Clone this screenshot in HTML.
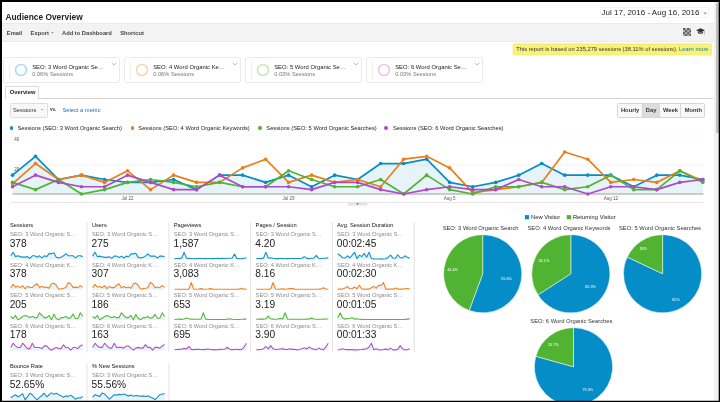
<!DOCTYPE html>
<html lang="en"><head><meta charset="utf-8"><title>Audience Overview</title>
<style>
html,body{margin:0;padding:0;}
body{width:720px;height:402px;overflow:hidden;background:#000;font-family:"Liberation Sans",sans-serif;position:relative;color:#222;}
.abs,.page div,.page i,.page span,.page svg{position:absolute;}
.page{position:absolute;left:2px;top:2px;width:717px;height:398.8px;background:#fff;overflow:hidden;}
.wrap{position:absolute;left:-2px;top:-2px;width:720px;height:402px;will-change:transform;filter:blur(0.35px);}
.title{left:5.4px;top:12.4px;font-size:8.4px;font-weight:bold;color:#222;line-height:10px;white-space:nowrap;}
.date{left:600.3px;top:7px;width:109px;height:11px;border:1px solid #f2f2f2;border-radius:1.5px;box-sizing:border-box;}
.date span{left:0.3px;top:0.3px;font-size:8px;line-height:10px;color:#222;white-space:nowrap;}
.bar{left:0;top:23px;width:714.2px;height:19px;background:#f3f3f3;border-top:1px solid #ebebeb;border-bottom:1px solid #ebebeb;box-sizing:border-box;}
.tb{top:29.8px;font-size:5.75px;font-weight:bold;color:#444;line-height:7px;white-space:nowrap;}
.note{left:512.8px;top:44.4px;width:199px;height:11.5px;font-size:5.75px;line-height:11.4px;color:#333;white-space:nowrap;}
.note span{left:3.4px;top:0;}
.note b{font-weight:normal;color:#15809c;}
.card{top:57.25px;width:116.4px;height:26.2px;border:1px solid #ebebeb;border-radius:2px;box-sizing:border-box;background:#fff;}
.grip{left:4.9px;top:4px;width:1px;height:18px;background:#f0f0f0;}
.ring{left:9.75px;top:4.85px;}
.cn{left:27.95px;top:5.75px;font-size:5.9px;line-height:7px;color:#222;white-space:nowrap;}
.cp{left:27.95px;top:12.35px;font-size:5.7px;line-height:7px;color:#777;white-space:nowrap;}
.chev{left:106.9px;top:3.5px;}
.tabline{left:5px;top:97.8px;width:708px;height:0.6px;background:#d4d4d4;}
.tab{left:4.9px;top:86px;width:34.6px;height:12.5px;border:0.7px solid #dadada;border-bottom:none;border-radius:1.5px 1.5px 0 0;background:#fff;box-sizing:border-box;}
.tab span{left:3.9px;top:2.4px;font-size:5.75px;font-weight:bold;line-height:7px;color:#222;}
.dd{left:9.5px;top:103px;width:38px;height:15px;border:1px solid #dedede;border-radius:1.5px;background:#f8f8f8;box-sizing:border-box;}
.dd span{left:2.5px;top:3.4px;font-size:5.75px;line-height:7px;color:#333;}
.dd i{left:30.5px;top:5.4px;width:0;height:0;border-left:1.1px solid transparent;border-right:1.1px solid transparent;border-top:1.3px solid #666;}
.vs{left:50px;top:107px;font-weight:bold;font-size:4.6px;line-height:6px;color:#333;}
.sel{left:62.4px;top:106.6px;font-size:5.78px;line-height:7px;color:#1a6fb5;white-space:nowrap;}
.btns{left:617.4px;top:103.2px;width:88px;height:14.4px;border:0.6px solid #d6d6d6;border-radius:1.5px;box-sizing:border-box;background:#f8f8f8;overflow:hidden;}
.btns span{top:0;height:13.2px;font-size:5.75px;font-weight:bold;line-height:13px;color:#333;text-align:center;border-right:0.6px solid #d6d6d6;box-sizing:border-box;}
.dot{top:126.3px;width:3.9px;height:3.9px;border-radius:50%;}
.lg{top:125.1px;font-size:5.78px;line-height:7px;color:#222;white-space:nowrap;}
.mt{font-size:5.7px;line-height:7px;color:#111;white-space:nowrap;}
.ms{font-size:5.7px;line-height:7px;color:#8a8a8a;white-space:nowrap;}
.mv{font-size:10.2px;line-height:12px;color:#222;white-space:nowrap;}
.sbt{left:713.5px;top:2px;width:5.4px;height:400px;background:#f1f1f1;}
.sb{left:716.2px;top:3px;width:2.7px;height:129.6px;background:#c0c0c0;}
.ic1{left:682.9px;top:28px;}
.ic2{left:695.8px;top:27.9px;}
</style></head><body>
<div class="page"><div class="wrap">
<div class="title">Audience Overview</div>
<div class="date"><span>Jul 17, 2016 - Aug 16, 2016</span><svg style="left:101.7px;top:3.6px" width="4.4" height="3" viewBox="0 0 4.4 3"><path d="M0.3 0.4h3.8L2.2 2.4z" fill="#999"/></svg></div>
<div class="bar"></div>
<div class="tb" style="left:6.8px">Email</div><div class="tb" style="left:30.6px">Export</div>
<svg class="abs" style="left:51.2px;top:32px" width="3" height="2" viewBox="0 0 3 2"><path d="M0.2 0.2h2.4L1.4 1.6z" fill="#666"/></svg>
<div class="tb" style="left:62px">Add to Dashboard</div><div class="tb" style="left:120.2px">Shortcut</div>
<svg class="ic1" width="8.4" height="8.4" viewBox="0 0 8 8"><rect width="8" height="8" fill="#b4b4b4"/><g fill="#5e5e5e"><rect x="0" y="0" width="2" height="2"/><rect x="4" y="0" width="2" height="2"/><rect x="2" y="2" width="2" height="2"/><rect x="6" y="2" width="2" height="2"/><rect x="0" y="4" width="2" height="2"/><rect x="4" y="4" width="2" height="2"/><rect x="2" y="6" width="2" height="2"/><rect x="6" y="6" width="2" height="2"/></g></svg>
<svg class="ic2" width="9.4" height="7" viewBox="0 0 9.4 7"><path d="M4.5 0.2L0 2.3L4.5 4.4L9 2.3z M1.9 3.6v1.5c0.8 0.9 4.4 0.9 5.2 0V3.6L4.5 4.9z M8.3 2.8v2.6l0.5 0.9l-1 0l0.3-0.9V3z" fill="#333"/></svg>
<svg class="abs" style="left:0;top:0" width="720" height="60" viewBox="0 0 720 60"><rect x="513" y="43.75" width="198.7" height="11.3" rx="1" fill="#f9f27a" stroke="#ebe25c" stroke-width="0.5"/></svg>
<div class="note"><span>This report is based on 235,279 sessions (38.11% of sessions). <b>Learn more</b></span></div>
<div class="card" style="left:3.25px"><i class="grip"></i><svg class="ring" width="14" height="14" viewBox="0 0 14 14"><circle cx="7" cy="7" r="5.45" fill="none" stroke="#b0dbef" stroke-width="1.6"/></svg><span class="cn">SEO: 3 Word Organic Se…</span><span class="cp">0.06% Sessions</span><svg class="chev" width="6" height="4" viewBox="0 0 6 4"><path d="M0.6 0.7L3 3.1L5.4 0.7" fill="none" stroke="#b4b4b4" stroke-width="0.9"/></svg></div>
<div class="card" style="left:124.25px"><i class="grip"></i><svg class="ring" width="14" height="14" viewBox="0 0 14 14"><circle cx="7" cy="7" r="5.45" fill="none" stroke="#f9d5b1" stroke-width="1.6"/></svg><span class="cn">SEO: 4 Word Organic Ke…</span><span class="cp">0.06% Sessions</span><svg class="chev" width="6" height="4" viewBox="0 0 6 4"><path d="M0.6 0.7L3 3.1L5.4 0.7" fill="none" stroke="#b4b4b4" stroke-width="0.9"/></svg></div>
<div class="card" style="left:245.25px"><i class="grip"></i><svg class="ring" width="14" height="14" viewBox="0 0 14 14"><circle cx="7" cy="7" r="5.45" fill="none" stroke="#c6e7bc" stroke-width="1.6"/></svg><span class="cn">SEO: 5 Word Organic Se…</span><span class="cp">0.03% Sessions</span><svg class="chev" width="6" height="4" viewBox="0 0 6 4"><path d="M0.6 0.7L3 3.1L5.4 0.7" fill="none" stroke="#b4b4b4" stroke-width="0.9"/></svg></div>
<div class="card" style="left:366.25px"><i class="grip"></i><svg class="ring" width="14" height="14" viewBox="0 0 14 14"><circle cx="7" cy="7" r="5.45" fill="none" stroke="#e7c9f0" stroke-width="1.6"/></svg><span class="cn">SEO: 6 Word Organic Se…</span><span class="cp">0.03% Sessions</span><svg class="chev" width="6" height="4" viewBox="0 0 6 4"><path d="M0.6 0.7L3 3.1L5.4 0.7" fill="none" stroke="#b4b4b4" stroke-width="0.9"/></svg></div>
<div class="tabline"></div><div class="tab"><span>Overview</span></div>
<div class="dd"><span>Sessions</span><i></i></div><div class="vs">vs.</div><div class="sel">Select a metric</div>
<div class="btns"><span style="left:0;width:24.4px">Hourly</span><span style="left:24.4px;width:17.6px;background:#dcdcdc">Day</span><span style="left:42px;width:21px">Week</span><span style="left:63px;width:24px;border-right:none">Month</span></div>
<i class="dot" style="left:9.5px;background:#058dc7"></i><div class="lg" style="left:17.5px">Sessions (SEO: 3 Word Organic Search)</div>
<i class="dot" style="left:130.6px;background:#ed7e17"></i><div class="lg" style="left:138.3px">Sessions (SEO: 4 Word Organic Keywords)</div>
<i class="dot" style="left:258.1px;background:#50b432"></i><div class="lg" style="left:266.3px">Sessions (SEO: 5 Word Organic Searches)</div>
<i class="dot" style="left:384.1px;background:#af49c5"></i><div class="lg" style="left:393px">Sessions (SEO: 6 Word Organic Searches)</div>
<svg class="abs" style="left:0;top:0" width="720" height="402" viewBox="0 0 720 402">
<line x1="12.5" x2="703.5" y1="165.00" y2="165.00" stroke="#ebebeb" stroke-width="0.6"/>
<line x1="12.5" x2="703.5" y1="136.00" y2="136.00" stroke="#f1f1f1" stroke-width="0.6"/>
<polygon points="12.5,194.0 12.50,175.15 35.51,156.30 58.52,179.50 81.53,175.15 104.54,179.50 127.55,182.40 150.56,182.40 173.57,179.50 196.58,189.65 219.59,175.15 242.60,175.15 265.61,182.40 288.62,175.15 311.63,186.75 334.64,175.15 357.65,179.50 380.66,163.55 403.67,163.55 426.68,159.20 449.69,182.40 472.70,186.75 495.71,182.40 518.72,175.15 541.73,163.55 564.74,175.15 587.75,175.15 610.76,175.15 633.77,186.75 656.78,175.15 679.79,175.15 702.80,179.50 702.8,194.0" fill="#058dc7" fill-opacity="0.1"/>
<line x1="12.5" x2="703.5" y1="194.0" y2="194.0" stroke="#bcbcbc" stroke-width="1.5"/>
<polyline points="12.50,175.15 35.51,156.30 58.52,179.50 81.53,175.15 104.54,179.50 127.55,182.40 150.56,182.40 173.57,179.50 196.58,189.65 219.59,175.15 242.60,175.15 265.61,182.40 288.62,175.15 311.63,186.75 334.64,175.15 357.65,179.50 380.66,163.55 403.67,163.55 426.68,159.20 449.69,182.40 472.70,186.75 495.71,182.40 518.72,175.15 541.73,163.55 564.74,175.15 587.75,175.15 610.76,175.15 633.77,186.75 656.78,175.15 679.79,175.15 702.80,179.50" fill="none" stroke="#058dc7" stroke-width="1.7" stroke-linejoin="round" stroke-linecap="round"/>
<circle cx="12.50" cy="175.15" r="1.8" fill="#058dc7"/>
<circle cx="35.51" cy="156.30" r="1.8" fill="#058dc7"/>
<circle cx="58.52" cy="179.50" r="1.8" fill="#058dc7"/>
<circle cx="81.53" cy="175.15" r="1.8" fill="#058dc7"/>
<circle cx="104.54" cy="179.50" r="1.8" fill="#058dc7"/>
<circle cx="127.55" cy="182.40" r="1.8" fill="#058dc7"/>
<circle cx="150.56" cy="182.40" r="1.8" fill="#058dc7"/>
<circle cx="173.57" cy="179.50" r="1.8" fill="#058dc7"/>
<circle cx="196.58" cy="189.65" r="1.8" fill="#058dc7"/>
<circle cx="219.59" cy="175.15" r="1.8" fill="#058dc7"/>
<circle cx="242.60" cy="175.15" r="1.8" fill="#058dc7"/>
<circle cx="265.61" cy="182.40" r="1.8" fill="#058dc7"/>
<circle cx="288.62" cy="175.15" r="1.8" fill="#058dc7"/>
<circle cx="311.63" cy="186.75" r="1.8" fill="#058dc7"/>
<circle cx="334.64" cy="175.15" r="1.8" fill="#058dc7"/>
<circle cx="357.65" cy="179.50" r="1.8" fill="#058dc7"/>
<circle cx="380.66" cy="163.55" r="1.8" fill="#058dc7"/>
<circle cx="403.67" cy="163.55" r="1.8" fill="#058dc7"/>
<circle cx="426.68" cy="159.20" r="1.8" fill="#058dc7"/>
<circle cx="449.69" cy="182.40" r="1.8" fill="#058dc7"/>
<circle cx="472.70" cy="186.75" r="1.8" fill="#058dc7"/>
<circle cx="495.71" cy="182.40" r="1.8" fill="#058dc7"/>
<circle cx="518.72" cy="175.15" r="1.8" fill="#058dc7"/>
<circle cx="541.73" cy="163.55" r="1.8" fill="#058dc7"/>
<circle cx="564.74" cy="175.15" r="1.8" fill="#058dc7"/>
<circle cx="587.75" cy="175.15" r="1.8" fill="#058dc7"/>
<circle cx="610.76" cy="175.15" r="1.8" fill="#058dc7"/>
<circle cx="633.77" cy="186.75" r="1.8" fill="#058dc7"/>
<circle cx="656.78" cy="175.15" r="1.8" fill="#058dc7"/>
<circle cx="679.79" cy="175.15" r="1.8" fill="#058dc7"/>
<circle cx="702.80" cy="179.50" r="1.8" fill="#058dc7"/>
<polyline points="12.50,183.85 35.51,163.55 58.52,179.50 81.53,175.15 104.54,182.40 127.55,170.80 150.56,189.65 173.57,175.15 196.58,182.40 219.59,182.40 242.60,167.90 265.61,159.20 288.62,182.40 311.63,175.15 334.64,182.40 357.65,179.50 380.66,186.75 403.67,159.20 426.68,156.30 449.69,167.90 472.70,192.55 495.71,189.65 518.72,186.75 541.73,182.40 564.74,151.95 587.75,159.20 610.76,182.40 633.77,179.50 656.78,182.40 679.79,170.80 702.80,180.95" fill="none" stroke="#ed7e17" stroke-width="1.7" stroke-linejoin="round" stroke-linecap="round"/>
<circle cx="12.50" cy="183.85" r="1.8" fill="#ed7e17"/>
<circle cx="35.51" cy="163.55" r="1.8" fill="#ed7e17"/>
<circle cx="58.52" cy="179.50" r="1.8" fill="#ed7e17"/>
<circle cx="81.53" cy="175.15" r="1.8" fill="#ed7e17"/>
<circle cx="104.54" cy="182.40" r="1.8" fill="#ed7e17"/>
<circle cx="127.55" cy="170.80" r="1.8" fill="#ed7e17"/>
<circle cx="150.56" cy="189.65" r="1.8" fill="#ed7e17"/>
<circle cx="173.57" cy="175.15" r="1.8" fill="#ed7e17"/>
<circle cx="196.58" cy="182.40" r="1.8" fill="#ed7e17"/>
<circle cx="219.59" cy="182.40" r="1.8" fill="#ed7e17"/>
<circle cx="242.60" cy="167.90" r="1.8" fill="#ed7e17"/>
<circle cx="265.61" cy="159.20" r="1.8" fill="#ed7e17"/>
<circle cx="288.62" cy="182.40" r="1.8" fill="#ed7e17"/>
<circle cx="311.63" cy="175.15" r="1.8" fill="#ed7e17"/>
<circle cx="334.64" cy="182.40" r="1.8" fill="#ed7e17"/>
<circle cx="357.65" cy="179.50" r="1.8" fill="#ed7e17"/>
<circle cx="380.66" cy="186.75" r="1.8" fill="#ed7e17"/>
<circle cx="403.67" cy="159.20" r="1.8" fill="#ed7e17"/>
<circle cx="426.68" cy="156.30" r="1.8" fill="#ed7e17"/>
<circle cx="449.69" cy="167.90" r="1.8" fill="#ed7e17"/>
<circle cx="472.70" cy="192.55" r="1.8" fill="#ed7e17"/>
<circle cx="495.71" cy="189.65" r="1.8" fill="#ed7e17"/>
<circle cx="518.72" cy="186.75" r="1.8" fill="#ed7e17"/>
<circle cx="541.73" cy="182.40" r="1.8" fill="#ed7e17"/>
<circle cx="564.74" cy="151.95" r="1.8" fill="#ed7e17"/>
<circle cx="587.75" cy="159.20" r="1.8" fill="#ed7e17"/>
<circle cx="610.76" cy="182.40" r="1.8" fill="#ed7e17"/>
<circle cx="633.77" cy="179.50" r="1.8" fill="#ed7e17"/>
<circle cx="656.78" cy="182.40" r="1.8" fill="#ed7e17"/>
<circle cx="679.79" cy="170.80" r="1.8" fill="#ed7e17"/>
<circle cx="702.80" cy="180.95" r="1.8" fill="#ed7e17"/>
<polyline points="12.50,182.40 35.51,189.65 58.52,179.50 81.53,194.00 104.54,189.65 127.55,182.40 150.56,179.50 173.57,182.40 196.58,186.75 219.59,182.40 242.60,186.75 265.61,186.75 288.62,170.80 311.63,179.50 334.64,186.75 357.65,186.75 380.66,179.50 403.67,194.00 426.68,175.15 449.69,189.65 472.70,194.00 495.71,186.75 518.72,186.75 541.73,182.40 564.74,189.65 587.75,186.75 610.76,175.15 633.77,189.65 656.78,189.65 679.79,170.80 702.80,182.40" fill="none" stroke="#50b432" stroke-width="1.7" stroke-linejoin="round" stroke-linecap="round"/>
<circle cx="12.50" cy="182.40" r="1.8" fill="#50b432"/>
<circle cx="35.51" cy="189.65" r="1.8" fill="#50b432"/>
<circle cx="58.52" cy="179.50" r="1.8" fill="#50b432"/>
<circle cx="81.53" cy="194.00" r="1.8" fill="#50b432"/>
<circle cx="104.54" cy="189.65" r="1.8" fill="#50b432"/>
<circle cx="127.55" cy="182.40" r="1.8" fill="#50b432"/>
<circle cx="150.56" cy="179.50" r="1.8" fill="#50b432"/>
<circle cx="173.57" cy="182.40" r="1.8" fill="#50b432"/>
<circle cx="196.58" cy="186.75" r="1.8" fill="#50b432"/>
<circle cx="219.59" cy="182.40" r="1.8" fill="#50b432"/>
<circle cx="242.60" cy="186.75" r="1.8" fill="#50b432"/>
<circle cx="265.61" cy="186.75" r="1.8" fill="#50b432"/>
<circle cx="288.62" cy="170.80" r="1.8" fill="#50b432"/>
<circle cx="311.63" cy="179.50" r="1.8" fill="#50b432"/>
<circle cx="334.64" cy="186.75" r="1.8" fill="#50b432"/>
<circle cx="357.65" cy="186.75" r="1.8" fill="#50b432"/>
<circle cx="380.66" cy="179.50" r="1.8" fill="#50b432"/>
<circle cx="403.67" cy="194.00" r="1.8" fill="#50b432"/>
<circle cx="426.68" cy="175.15" r="1.8" fill="#50b432"/>
<circle cx="449.69" cy="189.65" r="1.8" fill="#50b432"/>
<circle cx="472.70" cy="194.00" r="1.8" fill="#50b432"/>
<circle cx="495.71" cy="186.75" r="1.8" fill="#50b432"/>
<circle cx="518.72" cy="186.75" r="1.8" fill="#50b432"/>
<circle cx="541.73" cy="182.40" r="1.8" fill="#50b432"/>
<circle cx="564.74" cy="189.65" r="1.8" fill="#50b432"/>
<circle cx="587.75" cy="186.75" r="1.8" fill="#50b432"/>
<circle cx="610.76" cy="175.15" r="1.8" fill="#50b432"/>
<circle cx="633.77" cy="189.65" r="1.8" fill="#50b432"/>
<circle cx="656.78" cy="189.65" r="1.8" fill="#50b432"/>
<circle cx="679.79" cy="170.80" r="1.8" fill="#50b432"/>
<circle cx="702.80" cy="182.40" r="1.8" fill="#50b432"/>
<polyline points="12.50,186.75 35.51,175.15 58.52,182.40 81.53,186.75 104.54,186.75 127.55,175.15 150.56,182.40 173.57,189.65 196.58,189.65 219.59,175.15 242.60,186.75 265.61,186.75 288.62,186.75 311.63,189.65 334.64,182.40 357.65,182.40 380.66,189.65 403.67,194.00 426.68,189.65 449.69,186.75 472.70,189.65 495.71,189.65 518.72,179.50 541.73,186.75 564.74,186.75 587.75,194.00 610.76,186.75 633.77,186.75 656.78,189.65 679.79,182.40 702.80,179.50" fill="none" stroke="#af49c5" stroke-width="1.7" stroke-linejoin="round" stroke-linecap="round"/>
<circle cx="12.50" cy="186.75" r="1.8" fill="#af49c5"/>
<circle cx="35.51" cy="175.15" r="1.8" fill="#af49c5"/>
<circle cx="58.52" cy="182.40" r="1.8" fill="#af49c5"/>
<circle cx="81.53" cy="186.75" r="1.8" fill="#af49c5"/>
<circle cx="104.54" cy="186.75" r="1.8" fill="#af49c5"/>
<circle cx="127.55" cy="175.15" r="1.8" fill="#af49c5"/>
<circle cx="150.56" cy="182.40" r="1.8" fill="#af49c5"/>
<circle cx="173.57" cy="189.65" r="1.8" fill="#af49c5"/>
<circle cx="196.58" cy="189.65" r="1.8" fill="#af49c5"/>
<circle cx="219.59" cy="175.15" r="1.8" fill="#af49c5"/>
<circle cx="242.60" cy="186.75" r="1.8" fill="#af49c5"/>
<circle cx="265.61" cy="186.75" r="1.8" fill="#af49c5"/>
<circle cx="288.62" cy="186.75" r="1.8" fill="#af49c5"/>
<circle cx="311.63" cy="189.65" r="1.8" fill="#af49c5"/>
<circle cx="334.64" cy="182.40" r="1.8" fill="#af49c5"/>
<circle cx="357.65" cy="182.40" r="1.8" fill="#af49c5"/>
<circle cx="380.66" cy="189.65" r="1.8" fill="#af49c5"/>
<circle cx="403.67" cy="194.00" r="1.8" fill="#af49c5"/>
<circle cx="426.68" cy="189.65" r="1.8" fill="#af49c5"/>
<circle cx="449.69" cy="186.75" r="1.8" fill="#af49c5"/>
<circle cx="472.70" cy="189.65" r="1.8" fill="#af49c5"/>
<circle cx="495.71" cy="189.65" r="1.8" fill="#af49c5"/>
<circle cx="518.72" cy="179.50" r="1.8" fill="#af49c5"/>
<circle cx="541.73" cy="186.75" r="1.8" fill="#af49c5"/>
<circle cx="564.74" cy="186.75" r="1.8" fill="#af49c5"/>
<circle cx="587.75" cy="194.00" r="1.8" fill="#af49c5"/>
<circle cx="610.76" cy="186.75" r="1.8" fill="#af49c5"/>
<circle cx="633.77" cy="186.75" r="1.8" fill="#af49c5"/>
<circle cx="656.78" cy="189.65" r="1.8" fill="#af49c5"/>
<circle cx="679.79" cy="182.40" r="1.8" fill="#af49c5"/>
<circle cx="702.80" cy="179.50" r="1.8" fill="#af49c5"/>
<g font-family="Liberation Sans, sans-serif" font-size="4.5" fill="#555">
<text x="14.3" y="141.1">40</text><text x="14.3" y="170.5">20</text>
<text x="127.5" y="200.2" text-anchor="middle">Jul 22</text>
<text x="288.6" y="200.2" text-anchor="middle">Jul 29</text>
<text x="449.7" y="200.2" text-anchor="middle">Aug 5</text>
<text x="610.8" y="200.2" text-anchor="middle">Aug 12</text>
</g>
<line x1="10.5" x2="703.8" y1="202.4" y2="202.4" stroke="#d9d9d9" stroke-width="0.7"/>
<rect x="347.5" y="202.4" width="20" height="3.2" fill="#e4e4e4"/>
<path d="M356.3 203.3h2.6l-1.3 1.5z" fill="#555"/>
</svg>
<svg class="abs" style="left:0;top:0" width="720" height="402" viewBox="0 0 720 402">
<polygon points="10.70,259.60 10.70,255.80 13.10,252.30 15.50,256.61 17.90,255.80 20.30,256.61 22.70,257.15 25.10,257.15 27.50,256.61 29.90,258.49 32.30,255.80 34.70,255.80 37.10,257.15 39.50,255.80 41.90,257.95 44.30,255.80 46.70,256.61 49.10,253.65 51.50,253.65 53.90,252.84 56.30,257.15 58.70,257.95 61.10,257.15 63.50,255.80 65.90,253.65 68.30,255.80 70.70,255.80 73.10,255.80 75.50,257.95 77.90,255.80 80.30,255.80 82.70,256.61 82.70,259.60" fill="#058dc7" fill-opacity="0.10"/><polyline points="10.70,255.80 13.10,252.30 15.50,256.61 17.90,255.80 20.30,256.61 22.70,257.15 25.10,257.15 27.50,256.61 29.90,258.49 32.30,255.80 34.70,255.80 37.10,257.15 39.50,255.80 41.90,257.95 44.30,255.80 46.70,256.61 49.10,253.65 51.50,253.65 53.90,252.84 56.30,257.15 58.70,257.95 61.10,257.15 63.50,255.80 65.90,253.65 68.30,255.80 70.70,255.80 73.10,255.80 75.50,257.95 77.90,255.80 80.30,255.80 82.70,256.61" fill="none" stroke="#058dc7" stroke-width="1.1" stroke-linejoin="round" stroke-opacity="0.95"/>
<polygon points="10.70,289.80 10.70,287.81 13.10,284.43 15.50,287.09 17.90,286.36 20.30,287.57 22.70,285.64 25.10,288.78 27.50,286.36 29.90,287.57 32.30,287.57 34.70,285.16 37.10,283.71 39.50,287.57 41.90,286.36 44.30,287.57 46.70,287.09 49.10,288.29 51.50,283.71 53.90,283.22 56.30,285.16 58.70,289.26 61.10,288.78 63.50,288.29 65.90,287.57 68.30,282.50 70.70,283.71 73.10,287.57 75.50,287.09 77.90,287.57 80.30,285.64 82.70,287.33 82.70,289.80" fill="#058dc7" fill-opacity="0.10"/><polyline points="10.70,287.81 13.10,284.43 15.50,287.09 17.90,286.36 20.30,287.57 22.70,285.64 25.10,288.78 27.50,286.36 29.90,287.57 32.30,287.57 34.70,285.16 37.10,283.71 39.50,287.57 41.90,286.36 44.30,287.57 46.70,287.09 49.10,288.29 51.50,283.71 53.90,283.22 56.30,285.16 58.70,289.26 61.10,288.78 63.50,288.29 65.90,287.57 68.30,282.50 70.70,283.71 73.10,287.57 75.50,287.09 77.90,287.57 80.30,285.64 82.70,287.33" fill="none" stroke="#ed7e17" stroke-width="1.1" stroke-linejoin="round" stroke-opacity="0.95"/>
<polygon points="10.70,320.10 10.70,316.30 13.10,318.49 15.50,315.43 17.90,319.80 20.30,318.49 22.70,316.30 25.10,315.43 27.50,316.30 29.90,317.61 32.30,316.30 34.70,317.61 37.10,317.61 39.50,312.80 41.90,315.43 44.30,317.61 46.70,317.61 49.10,315.43 51.50,319.80 53.90,314.11 56.30,318.49 58.70,319.80 61.10,317.61 63.50,317.61 65.90,316.30 68.30,318.49 70.70,317.61 73.10,314.11 75.50,318.49 77.90,318.49 80.30,312.80 82.70,316.30 82.70,320.10" fill="#058dc7" fill-opacity="0.10"/><polyline points="10.70,316.30 13.10,318.49 15.50,315.43 17.90,319.80 20.30,318.49 22.70,316.30 25.10,315.43 27.50,316.30 29.90,317.61 32.30,316.30 34.70,317.61 37.10,317.61 39.50,312.80 41.90,315.43 44.30,317.61 46.70,317.61 49.10,315.43 51.50,319.80 53.90,314.11 56.30,318.49 58.70,319.80 61.10,317.61 63.50,317.61 65.90,316.30 68.30,318.49 70.70,317.61 73.10,314.11 75.50,318.49 77.90,318.49 80.30,312.80 82.70,316.30" fill="none" stroke="#50b432" stroke-width="1.1" stroke-linejoin="round" stroke-opacity="0.95"/>
<polygon points="10.70,350.50 10.70,347.51 13.10,343.20 15.50,345.89 17.90,347.51 20.30,347.51 22.70,343.20 25.10,345.89 27.50,348.58 29.90,348.58 32.30,343.20 34.70,347.51 37.10,347.51 39.50,347.51 41.90,348.58 44.30,345.89 46.70,345.89 49.10,348.58 51.50,350.20 53.90,348.58 56.30,347.51 58.70,348.58 61.10,348.58 63.50,344.82 65.90,347.51 68.30,347.51 70.70,350.20 73.10,347.51 75.50,347.51 77.90,348.58 80.30,345.89 82.70,344.82 82.70,350.50" fill="#058dc7" fill-opacity="0.10"/><polyline points="10.70,347.51 13.10,343.20 15.50,345.89 17.90,347.51 20.30,347.51 22.70,343.20 25.10,345.89 27.50,348.58 29.90,348.58 32.30,343.20 34.70,347.51 37.10,347.51 39.50,347.51 41.90,348.58 44.30,345.89 46.70,345.89 49.10,348.58 51.50,350.20 53.90,348.58 56.30,347.51 58.70,348.58 61.10,348.58 63.50,344.82 65.90,347.51 68.30,347.51 70.70,350.20 73.10,347.51 75.50,347.51 77.90,348.58 80.30,345.89 82.70,344.82" fill="none" stroke="#af49c5" stroke-width="1.1" stroke-linejoin="round" stroke-opacity="0.95"/>
<polygon points="92.60,259.60 92.60,256.12 95.00,252.30 97.40,256.75 99.80,256.12 102.20,256.75 104.60,257.39 107.00,257.39 109.40,256.75 111.80,258.35 114.20,256.12 116.60,256.12 119.00,257.39 121.40,256.12 123.80,258.03 126.20,256.12 128.60,256.75 131.00,253.89 133.40,253.89 135.80,253.25 138.20,257.39 140.60,258.03 143.00,257.39 145.40,256.12 147.80,253.89 150.20,256.12 152.60,256.12 155.00,256.12 157.40,258.03 159.80,256.12 162.20,256.12 164.60,256.75 164.60,259.60" fill="#058dc7" fill-opacity="0.10"/><polyline points="92.60,256.12 95.00,252.30 97.40,256.75 99.80,256.12 102.20,256.75 104.60,257.39 107.00,257.39 109.40,256.75 111.80,258.35 114.20,256.12 116.60,256.12 119.00,257.39 121.40,256.12 123.80,258.03 126.20,256.12 128.60,256.75 131.00,253.89 133.40,253.89 135.80,253.25 138.20,257.39 140.60,258.03 143.00,257.39 145.40,256.12 147.80,253.89 150.20,256.12 152.60,256.12 155.00,256.12 157.40,258.03 159.80,256.12 162.20,256.12 164.60,256.75" fill="none" stroke="#058dc7" stroke-width="1.1" stroke-linejoin="round" stroke-opacity="0.95"/>
<polygon points="92.60,289.80 92.60,287.67 95.00,284.33 97.40,287.07 99.80,286.46 102.20,287.67 104.60,285.54 107.00,288.59 109.40,286.46 111.80,287.67 114.20,287.67 116.60,285.24 119.00,283.72 121.40,287.67 123.80,286.46 126.20,287.67 128.60,287.07 131.00,288.28 133.40,283.72 135.80,283.11 138.20,285.24 140.60,289.20 143.00,288.59 145.40,288.28 147.80,287.67 150.20,282.50 152.60,283.72 155.00,287.67 157.40,287.07 159.80,287.67 162.20,285.54 164.60,287.37 164.60,289.80" fill="#058dc7" fill-opacity="0.10"/><polyline points="92.60,287.67 95.00,284.33 97.40,287.07 99.80,286.46 102.20,287.67 104.60,285.54 107.00,288.59 109.40,286.46 111.80,287.67 114.20,287.67 116.60,285.24 119.00,283.72 121.40,287.67 123.80,286.46 126.20,287.67 128.60,287.07 131.00,288.28 133.40,283.72 135.80,283.11 138.20,285.24 140.60,289.20 143.00,288.59 145.40,288.28 147.80,287.67 150.20,282.50 152.60,283.72 155.00,287.67 157.40,287.07 159.80,287.67 162.20,285.54 164.60,287.37" fill="none" stroke="#ed7e17" stroke-width="1.1" stroke-linejoin="round" stroke-opacity="0.95"/>
<polygon points="92.60,320.10 92.60,316.57 95.00,318.18 97.40,315.49 99.80,319.80 102.20,318.18 104.60,316.57 107.00,315.49 109.40,316.57 111.80,317.65 114.20,316.57 116.60,317.65 119.00,317.65 121.40,312.80 123.80,315.49 126.20,317.65 128.60,317.65 131.00,315.49 133.40,319.80 135.80,314.42 138.20,318.18 140.60,319.80 143.00,317.65 145.40,317.65 147.80,316.57 150.20,318.18 152.60,317.65 155.00,314.42 157.40,318.18 159.80,318.18 162.20,312.80 164.60,316.57 164.60,320.10" fill="#058dc7" fill-opacity="0.10"/><polyline points="92.60,316.57 95.00,318.18 97.40,315.49 99.80,319.80 102.20,318.18 104.60,316.57 107.00,315.49 109.40,316.57 111.80,317.65 114.20,316.57 116.60,317.65 119.00,317.65 121.40,312.80 123.80,315.49 126.20,317.65 128.60,317.65 131.00,315.49 133.40,319.80 135.80,314.42 138.20,318.18 140.60,319.80 143.00,317.65 145.40,317.65 147.80,316.57 150.20,318.18 152.60,317.65 155.00,314.42 157.40,318.18 159.80,318.18 162.20,312.80 164.60,316.57" fill="none" stroke="#50b432" stroke-width="1.1" stroke-linejoin="round" stroke-opacity="0.95"/>
<polygon points="92.60,350.50 92.60,347.40 95.00,343.20 97.40,346.00 99.80,347.40 102.20,347.40 104.60,343.20 107.00,346.00 109.40,348.10 111.80,348.10 114.20,343.20 116.60,347.40 119.00,347.40 121.40,347.40 123.80,348.10 126.20,346.00 128.60,346.00 131.00,348.10 133.40,350.20 135.80,348.10 138.20,347.40 140.60,348.10 143.00,348.10 145.40,344.60 147.80,347.40 150.20,347.40 152.60,350.20 155.00,347.40 157.40,347.40 159.80,348.10 162.20,346.00 164.60,344.60 164.60,350.50" fill="#058dc7" fill-opacity="0.10"/><polyline points="92.60,347.40 95.00,343.20 97.40,346.00 99.80,347.40 102.20,347.40 104.60,343.20 107.00,346.00 109.40,348.10 111.80,348.10 114.20,343.20 116.60,347.40 119.00,347.40 121.40,347.40 123.80,348.10 126.20,346.00 128.60,346.00 131.00,348.10 133.40,350.20 135.80,348.10 138.20,347.40 140.60,348.10 143.00,348.10 145.40,344.60 147.80,347.40 150.20,347.40 152.60,350.20 155.00,347.40 157.40,347.40 159.80,348.10 162.20,346.00 164.60,344.60" fill="none" stroke="#af49c5" stroke-width="1.1" stroke-linejoin="round" stroke-opacity="0.95"/>
<polygon points="174.50,259.60 174.50,258.60 176.90,258.46 179.30,258.39 181.70,258.25 184.10,252.30 186.50,258.25 188.90,258.39 191.30,258.53 193.70,258.74 196.10,258.60 198.50,258.46 200.90,258.46 203.30,258.46 205.70,258.67 208.10,258.46 210.50,258.46 212.90,258.60 215.30,258.46 217.70,258.32 220.10,258.60 222.50,258.18 224.90,258.53 227.30,258.32 229.70,258.25 232.10,258.18 234.50,254.05 236.90,258.39 239.30,258.74 241.70,258.60 244.10,258.18 246.50,257.76 246.50,259.60" fill="#058dc7" fill-opacity="0.10"/><polyline points="174.50,258.60 176.90,258.46 179.30,258.39 181.70,258.25 184.10,252.30 186.50,258.25 188.90,258.39 191.30,258.53 193.70,258.74 196.10,258.60 198.50,258.46 200.90,258.46 203.30,258.46 205.70,258.67 208.10,258.46 210.50,258.46 212.90,258.60 215.30,258.46 217.70,258.32 220.10,258.60 222.50,258.18 224.90,258.53 227.30,258.32 229.70,258.25 232.10,258.18 234.50,254.05 236.90,258.39 239.30,258.74 241.70,258.60 244.10,258.18 246.50,257.76" fill="none" stroke="#058dc7" stroke-width="1.1" stroke-linejoin="round" stroke-opacity="0.95"/>
<polygon points="174.50,289.80 174.50,289.29 176.90,289.29 179.30,289.29 181.70,289.29 184.10,289.29 186.50,289.22 188.90,289.08 191.30,282.50 193.70,289.08 196.10,289.22 198.50,289.01 200.90,288.59 203.30,289.08 205.70,289.29 208.10,289.01 210.50,288.59 212.90,289.08 215.30,289.29 217.70,289.29 220.10,289.29 222.50,289.29 224.90,289.29 227.30,289.29 229.70,289.29 232.10,289.29 234.50,289.29 236.90,289.29 239.30,289.15 241.70,288.24 244.10,289.15 246.50,289.29 246.50,289.80" fill="#058dc7" fill-opacity="0.10"/><polyline points="174.50,289.29 176.90,289.29 179.30,289.29 181.70,289.29 184.10,289.29 186.50,289.22 188.90,289.08 191.30,282.50 193.70,289.08 196.10,289.22 198.50,289.01 200.90,288.59 203.30,289.08 205.70,289.29 208.10,289.01 210.50,288.59 212.90,289.08 215.30,289.29 217.70,289.29 220.10,289.29 222.50,289.29 224.90,289.29 227.30,289.29 229.70,289.29 232.10,289.29 234.50,289.29 236.90,289.29 239.30,289.15 241.70,288.24 244.10,289.15 246.50,289.29" fill="none" stroke="#ed7e17" stroke-width="1.1" stroke-linejoin="round" stroke-opacity="0.95"/>
<polygon points="174.50,320.10 174.50,319.45 176.90,319.24 179.30,319.10 181.70,319.38 184.10,318.96 186.50,317.98 188.90,318.82 191.30,319.17 193.70,319.24 196.10,319.31 198.50,319.24 200.90,319.10 203.30,312.80 205.70,319.17 208.10,319.38 210.50,319.45 212.90,319.45 215.30,319.45 217.70,319.45 220.10,319.45 222.50,319.45 224.90,319.45 227.30,319.17 229.70,318.82 232.10,319.31 234.50,319.45 236.90,319.45 239.30,319.45 241.70,319.24 244.10,318.96 246.50,319.10 246.50,320.10" fill="#058dc7" fill-opacity="0.10"/><polyline points="174.50,319.45 176.90,319.24 179.30,319.10 181.70,319.38 184.10,318.96 186.50,317.98 188.90,318.82 191.30,319.17 193.70,319.24 196.10,319.31 198.50,319.24 200.90,319.10 203.30,312.80 205.70,319.17 208.10,319.38 210.50,319.45 212.90,319.45 215.30,319.45 217.70,319.45 220.10,319.45 222.50,319.45 224.90,319.45 227.30,319.17 229.70,318.82 232.10,319.31 234.50,319.45 236.90,319.45 239.30,319.45 241.70,319.24 244.10,318.96 246.50,319.10" fill="none" stroke="#50b432" stroke-width="1.1" stroke-linejoin="round" stroke-opacity="0.95"/>
<polygon points="174.50,350.50 174.50,349.78 176.90,349.50 179.30,349.36 181.70,349.22 184.10,348.38 186.50,349.08 188.90,346.35 191.30,349.36 193.70,349.64 196.10,349.22 198.50,349.36 200.90,349.50 203.30,349.64 205.70,349.36 208.10,349.08 210.50,349.50 212.90,349.64 215.30,349.85 217.70,349.64 220.10,349.36 222.50,349.22 224.90,349.08 227.30,347.26 229.70,349.22 232.10,349.64 234.50,349.50 236.90,349.22 239.30,349.64 241.70,349.36 244.10,347.05 246.50,343.20 246.50,350.50" fill="#058dc7" fill-opacity="0.10"/><polyline points="174.50,349.78 176.90,349.50 179.30,349.36 181.70,349.22 184.10,348.38 186.50,349.08 188.90,346.35 191.30,349.36 193.70,349.64 196.10,349.22 198.50,349.36 200.90,349.50 203.30,349.64 205.70,349.36 208.10,349.08 210.50,349.50 212.90,349.64 215.30,349.85 217.70,349.64 220.10,349.36 222.50,349.22 224.90,349.08 227.30,347.26 229.70,349.22 232.10,349.64 234.50,349.50 236.90,349.22 239.30,349.64 241.70,349.36 244.10,347.05 246.50,343.20" fill="none" stroke="#af49c5" stroke-width="1.1" stroke-linejoin="round" stroke-opacity="0.95"/>
<polygon points="256.30,259.60 256.30,258.60 258.70,258.46 261.10,258.39 263.50,258.18 265.90,252.30 268.30,258.04 270.70,257.90 273.10,258.32 275.50,258.67 277.90,258.60 280.30,258.46 282.70,258.46 285.10,258.46 287.50,258.60 289.90,258.46 292.30,258.46 294.70,258.46 297.10,258.46 299.50,258.46 301.90,258.32 304.30,256.64 306.70,258.39 309.10,258.60 311.50,258.32 313.90,258.18 316.30,255.45 318.70,258.32 321.10,258.46 323.50,258.32 325.90,258.18 328.30,257.62 328.30,259.60" fill="#058dc7" fill-opacity="0.10"/><polyline points="256.30,258.60 258.70,258.46 261.10,258.39 263.50,258.18 265.90,252.30 268.30,258.04 270.70,257.90 273.10,258.32 275.50,258.67 277.90,258.60 280.30,258.46 282.70,258.46 285.10,258.46 287.50,258.60 289.90,258.46 292.30,258.46 294.70,258.46 297.10,258.46 299.50,258.46 301.90,258.32 304.30,256.64 306.70,258.39 309.10,258.60 311.50,258.32 313.90,258.18 316.30,255.45 318.70,258.32 321.10,258.46 323.50,258.32 325.90,258.18 328.30,257.62" fill="none" stroke="#058dc7" stroke-width="1.1" stroke-linejoin="round" stroke-opacity="0.95"/>
<polygon points="256.30,289.80 256.30,289.22 258.70,289.22 261.10,289.22 263.50,289.22 265.90,289.22 268.30,289.15 270.70,289.01 273.10,282.50 275.50,289.01 277.90,289.22 280.30,288.94 282.70,288.87 285.10,289.22 287.50,288.94 289.90,288.66 292.30,288.59 294.70,289.08 297.10,289.22 299.50,289.22 301.90,289.22 304.30,289.22 306.70,289.22 309.10,289.22 311.50,289.22 313.90,289.22 316.30,289.22 318.70,289.15 321.10,289.01 323.50,287.68 325.90,289.01 328.30,289.22 328.30,289.80" fill="#058dc7" fill-opacity="0.10"/><polyline points="256.30,289.22 258.70,289.22 261.10,289.22 263.50,289.22 265.90,289.22 268.30,289.15 270.70,289.01 273.10,282.50 275.50,289.01 277.90,289.22 280.30,288.94 282.70,288.87 285.10,289.22 287.50,288.94 289.90,288.66 292.30,288.59 294.70,289.08 297.10,289.22 299.50,289.22 301.90,289.22 304.30,289.22 306.70,289.22 309.10,289.22 311.50,289.22 313.90,289.22 316.30,289.22 318.70,289.15 321.10,289.01 323.50,287.68 325.90,289.01 328.30,289.22" fill="none" stroke="#ed7e17" stroke-width="1.1" stroke-linejoin="round" stroke-opacity="0.95"/>
<polygon points="256.30,320.10 256.30,319.24 258.70,319.10 261.10,318.96 263.50,319.17 265.90,318.82 268.30,316.16 270.70,318.82 273.10,319.10 275.50,319.24 277.90,318.96 280.30,318.40 282.70,318.96 285.10,312.80 287.50,319.03 289.90,319.24 292.30,319.24 294.70,319.24 297.10,319.24 299.50,319.24 301.90,319.24 304.30,319.24 306.70,319.10 309.10,318.96 311.50,318.12 313.90,319.03 316.30,319.24 318.70,319.24 321.10,319.24 323.50,319.10 325.90,318.96 328.30,318.96 328.30,320.10" fill="#058dc7" fill-opacity="0.10"/><polyline points="256.30,319.24 258.70,319.10 261.10,318.96 263.50,319.17 265.90,318.82 268.30,316.16 270.70,318.82 273.10,319.10 275.50,319.24 277.90,318.96 280.30,318.40 282.70,318.96 285.10,312.80 287.50,319.03 289.90,319.24 292.30,319.24 294.70,319.24 297.10,319.24 299.50,319.24 301.90,319.24 304.30,319.24 306.70,319.10 309.10,318.96 311.50,318.12 313.90,319.03 316.30,319.24 318.70,319.24 321.10,319.24 323.50,319.10 325.90,318.96 328.30,318.96" fill="none" stroke="#50b432" stroke-width="1.1" stroke-linejoin="round" stroke-opacity="0.95"/>
<polygon points="256.30,350.50 256.30,349.78 258.70,349.64 261.10,349.50 263.50,348.66 265.90,346.56 268.30,348.94 270.70,345.58 273.10,348.80 275.50,349.50 277.90,349.22 280.30,348.94 282.70,348.66 285.10,349.36 287.50,349.57 289.90,348.80 292.30,349.36 294.70,349.22 297.10,349.85 299.50,349.50 301.90,348.80 304.30,347.68 306.70,349.08 309.10,346.98 311.50,348.38 313.90,349.36 316.30,349.64 318.70,348.10 321.10,349.22 323.50,349.64 325.90,346.84 328.30,343.20 328.30,350.50" fill="#058dc7" fill-opacity="0.10"/><polyline points="256.30,349.78 258.70,349.64 261.10,349.50 263.50,348.66 265.90,346.56 268.30,348.94 270.70,345.58 273.10,348.80 275.50,349.50 277.90,349.22 280.30,348.94 282.70,348.66 285.10,349.36 287.50,349.57 289.90,348.80 292.30,349.36 294.70,349.22 297.10,349.85 299.50,349.50 301.90,348.80 304.30,347.68 306.70,349.08 309.10,346.98 311.50,348.38 313.90,349.36 316.30,349.64 318.70,348.10 321.10,349.22 323.50,349.64 325.90,346.84 328.30,343.20" fill="none" stroke="#af49c5" stroke-width="1.1" stroke-linejoin="round" stroke-opacity="0.95"/>
<polygon points="337.80,259.60 337.80,253.70 340.20,255.45 342.60,257.76 345.00,258.04 347.40,255.80 349.80,257.76 352.20,255.10 354.60,252.30 357.00,258.60 359.40,255.10 361.80,256.64 364.20,253.35 366.60,257.20 369.00,252.30 371.40,258.46 373.80,258.88 376.20,258.95 378.60,258.95 381.00,258.88 383.40,258.95 385.80,258.74 388.20,257.20 390.60,255.10 393.00,258.04 395.40,258.32 397.80,254.75 400.20,257.76 402.60,257.90 405.00,255.80 407.40,257.34 409.80,258.32 409.80,259.60" fill="#058dc7" fill-opacity="0.10"/><polyline points="337.80,253.70 340.20,255.45 342.60,257.76 345.00,258.04 347.40,255.80 349.80,257.76 352.20,255.10 354.60,252.30 357.00,258.60 359.40,255.10 361.80,256.64 364.20,253.35 366.60,257.20 369.00,252.30 371.40,258.46 373.80,258.88 376.20,258.95 378.60,258.95 381.00,258.88 383.40,258.95 385.80,258.74 388.20,257.20 390.60,255.10 393.00,258.04 395.40,258.32 397.80,254.75 400.20,257.76 402.60,257.90 405.00,255.80 407.40,257.34 409.80,258.32" fill="none" stroke="#058dc7" stroke-width="1.1" stroke-linejoin="round" stroke-opacity="0.95"/>
<polygon points="337.80,289.80 337.80,289.15 340.20,289.15 342.60,288.94 345.00,288.10 347.40,286.35 349.80,288.80 352.20,288.52 354.60,287.05 357.00,288.80 359.40,285.30 361.80,288.94 364.20,289.15 366.60,289.15 369.00,289.08 371.40,287.75 373.80,286.35 376.20,288.10 378.60,285.30 381.00,285.65 383.40,282.50 385.80,289.08 388.20,289.15 390.60,288.94 393.00,289.15 395.40,288.10 397.80,289.08 400.20,289.15 402.60,289.15 405.00,288.80 407.40,288.45 409.80,289.15 409.80,289.80" fill="#058dc7" fill-opacity="0.10"/><polyline points="337.80,289.15 340.20,289.15 342.60,288.94 345.00,288.10 347.40,286.35 349.80,288.80 352.20,288.52 354.60,287.05 357.00,288.80 359.40,285.30 361.80,288.94 364.20,289.15 366.60,289.15 369.00,289.08 371.40,287.75 373.80,286.35 376.20,288.10 378.60,285.30 381.00,285.65 383.40,282.50 385.80,289.08 388.20,289.15 390.60,288.94 393.00,289.15 395.40,288.10 397.80,289.08 400.20,289.15 402.60,289.15 405.00,288.80 407.40,288.45 409.80,289.15" fill="none" stroke="#ed7e17" stroke-width="1.1" stroke-linejoin="round" stroke-opacity="0.95"/>
<polygon points="337.80,320.10 337.80,317.70 340.20,312.80 342.60,318.05 345.00,319.10 347.40,318.54 349.80,318.26 352.20,317.70 354.60,319.10 357.00,318.75 359.40,319.24 361.80,319.38 364.20,319.45 366.60,319.45 369.00,319.52 371.40,319.52 373.80,319.45 376.20,319.52 378.60,319.52 381.00,319.45 383.40,319.52 385.80,319.52 388.20,319.45 390.60,319.52 393.00,319.52 395.40,319.45 397.80,319.52 400.20,319.52 402.60,319.45 405.00,319.38 407.40,319.10 409.80,318.82 409.80,320.10" fill="#058dc7" fill-opacity="0.10"/><polyline points="337.80,317.70 340.20,312.80 342.60,318.05 345.00,319.10 347.40,318.54 349.80,318.26 352.20,317.70 354.60,319.10 357.00,318.75 359.40,319.24 361.80,319.38 364.20,319.45 366.60,319.45 369.00,319.52 371.40,319.52 373.80,319.45 376.20,319.52 378.60,319.52 381.00,319.45 383.40,319.52 385.80,319.52 388.20,319.45 390.60,319.52 393.00,319.52 395.40,319.45 397.80,319.52 400.20,319.52 402.60,319.45 405.00,319.38 407.40,319.10 409.80,318.82" fill="none" stroke="#50b432" stroke-width="1.1" stroke-linejoin="round" stroke-opacity="0.95"/>
<polygon points="337.80,350.50 337.80,349.85 340.20,349.50 342.60,348.80 345.00,349.57 347.40,349.64 349.80,349.50 352.20,349.64 354.60,349.85 357.00,349.85 359.40,349.78 361.80,349.50 364.20,349.15 366.60,348.94 369.00,347.05 371.40,343.20 373.80,349.78 376.20,348.80 378.60,349.85 381.00,349.92 383.40,349.50 385.80,349.15 388.20,349.78 390.60,348.10 393.00,349.85 395.40,349.85 397.80,349.36 400.20,345.65 402.60,348.80 405.00,349.85 407.40,349.64 409.80,348.80 409.80,350.50" fill="#058dc7" fill-opacity="0.10"/><polyline points="337.80,349.85 340.20,349.50 342.60,348.80 345.00,349.57 347.40,349.64 349.80,349.50 352.20,349.64 354.60,349.85 357.00,349.85 359.40,349.78 361.80,349.50 364.20,349.15 366.60,348.94 369.00,347.05 371.40,343.20 373.80,349.78 376.20,348.80 378.60,349.85 381.00,349.92 383.40,349.50 385.80,349.15 388.20,349.78 390.60,348.10 393.00,349.85 395.40,349.85 397.80,349.36 400.20,345.65 402.60,348.80 405.00,349.85 407.40,349.64 409.80,348.80" fill="none" stroke="#af49c5" stroke-width="1.1" stroke-linejoin="round" stroke-opacity="0.95"/>
<polygon points="10.70,400.20 10.70,397.69 13.10,396.22 15.50,394.74 17.90,396.95 20.30,395.48 22.70,393.64 25.10,399.90 27.50,396.58 29.90,393.27 32.30,394.74 34.70,397.69 37.10,399.90 39.50,397.32 41.90,395.48 44.30,393.27 46.70,396.95 49.10,394.74 51.50,392.90 53.90,394.37 56.30,393.27 58.70,394.74 61.10,395.85 63.50,397.32 65.90,395.85 68.30,396.58 70.70,395.11 73.10,396.95 75.50,399.16 77.90,397.69 80.30,398.06 82.70,396.58 82.70,400.20" fill="#058dc7" fill-opacity="0.10"/><polyline points="10.70,397.69 13.10,396.22 15.50,394.74 17.90,396.95 20.30,395.48 22.70,393.64 25.10,399.90 27.50,396.58 29.90,393.27 32.30,394.74 34.70,397.69 37.10,399.90 39.50,397.32 41.90,395.48 44.30,393.27 46.70,396.95 49.10,394.74 51.50,392.90 53.90,394.37 56.30,393.27 58.70,394.74 61.10,395.85 63.50,397.32 65.90,395.85 68.30,396.58 70.70,395.11 73.10,396.95 75.50,399.16 77.90,397.69 80.30,398.06 82.70,396.58" fill="none" stroke="#058dc7" stroke-width="1.1" stroke-linejoin="round" stroke-opacity="0.95"/>
<polygon points="92.60,400.20 92.60,397.32 95.00,394.74 97.40,395.63 99.80,396.36 102.20,392.90 104.60,394.01 107.00,396.58 109.40,399.16 111.80,396.95 114.20,394.74 116.60,395.11 119.00,394.37 121.40,394.74 123.80,394.01 126.20,395.11 128.60,395.85 131.00,395.11 133.40,396.22 135.80,395.48 138.20,395.85 140.60,396.22 143.00,395.85 145.40,396.58 147.80,395.85 150.20,396.95 152.60,398.06 155.00,399.53 157.40,397.32 159.80,394.74 162.20,394.01 164.60,393.86 164.60,400.20" fill="#058dc7" fill-opacity="0.10"/><polyline points="92.60,397.32 95.00,394.74 97.40,395.63 99.80,396.36 102.20,392.90 104.60,394.01 107.00,396.58 109.40,399.16 111.80,396.95 114.20,394.74 116.60,395.11 119.00,394.37 121.40,394.74 123.80,394.01 126.20,395.11 128.60,395.85 131.00,395.11 133.40,396.22 135.80,395.48 138.20,395.85 140.60,396.22 143.00,395.85 145.40,396.58 147.80,395.85 150.20,396.95 152.60,398.06 155.00,399.53 157.40,397.32 159.80,394.74 162.20,394.01 164.60,393.86" fill="none" stroke="#058dc7" stroke-width="1.1" stroke-linejoin="round" stroke-opacity="0.95"/>
<line x1="87.0" x2="87.0" y1="222.2" y2="352.3" stroke="#dcdcdc" stroke-width="0.8"/>
<line x1="168.9" x2="168.9" y1="222.2" y2="352.3" stroke="#dcdcdc" stroke-width="0.8"/>
<line x1="250.6" x2="250.6" y1="222.2" y2="352.3" stroke="#dcdcdc" stroke-width="0.8"/>
<line x1="332.4" x2="332.4" y1="222.2" y2="352.3" stroke="#dcdcdc" stroke-width="0.8"/>
<line x1="414.2" x2="414.2" y1="222.2" y2="352.3" stroke="#dcdcdc" stroke-width="0.8"/>
<line x1="87.0" x2="87.0" y1="363.3" y2="402" stroke="#dcdcdc" stroke-width="0.8"/>
<line x1="168.9" x2="168.9" y1="363.3" y2="402" stroke="#dcdcdc" stroke-width="0.8"/>
</svg>
<div class="mt" style="left:10.0px;top:222px">Sessions</div>
<div class="ms" style="left:10.0px;top:231px">SEO: 3 Word Organic S…</div>
<div class="mv" style="left:9.7px;top:238px">378</div>
<div class="ms" style="left:10.0px;top:262px">SEO: 4 Word Organic K…</div>
<div class="mv" style="left:9.7px;top:268px">378</div>
<div class="ms" style="left:10.0px;top:292px">SEO: 5 Word Organic S…</div>
<div class="mv" style="left:9.7px;top:299px">205</div>
<div class="ms" style="left:10.0px;top:323px">SEO: 6 Word Organic S…</div>
<div class="mv" style="left:9.7px;top:329px">178</div>
<div class="mt" style="left:91.89999999999999px;top:222px">Users</div>
<div class="ms" style="left:91.89999999999999px;top:231px">SEO: 3 Word Organic S…</div>
<div class="mv" style="left:91.6px;top:238px">275</div>
<div class="ms" style="left:91.89999999999999px;top:262px">SEO: 4 Word Organic K…</div>
<div class="mv" style="left:91.6px;top:268px">307</div>
<div class="ms" style="left:91.89999999999999px;top:292px">SEO: 5 Word Organic S…</div>
<div class="mv" style="left:91.6px;top:299px">186</div>
<div class="ms" style="left:91.89999999999999px;top:323px">SEO: 6 Word Organic S…</div>
<div class="mv" style="left:91.6px;top:329px">163</div>
<div class="mt" style="left:173.79999999999998px;top:222px">Pageviews</div>
<div class="ms" style="left:173.79999999999998px;top:231px">SEO: 3 Word Organic S…</div>
<div class="mv" style="left:173.49999999999997px;top:238px">1,587</div>
<div class="ms" style="left:173.79999999999998px;top:262px">SEO: 4 Word Organic K…</div>
<div class="mv" style="left:173.49999999999997px;top:268px">3,083</div>
<div class="ms" style="left:173.79999999999998px;top:292px">SEO: 5 Word Organic S…</div>
<div class="mv" style="left:173.49999999999997px;top:299px">653</div>
<div class="ms" style="left:173.79999999999998px;top:323px">SEO: 6 Word Organic S…</div>
<div class="mv" style="left:173.49999999999997px;top:329px">695</div>
<div class="mt" style="left:255.6px;top:222px">Pages / Session</div>
<div class="ms" style="left:255.6px;top:231px">SEO: 3 Word Organic S…</div>
<div class="mv" style="left:255.29999999999998px;top:238px">4.20</div>
<div class="ms" style="left:255.6px;top:262px">SEO: 4 Word Organic K…</div>
<div class="mv" style="left:255.29999999999998px;top:268px">8.16</div>
<div class="ms" style="left:255.6px;top:292px">SEO: 5 Word Organic S…</div>
<div class="mv" style="left:255.29999999999998px;top:299px">3.19</div>
<div class="ms" style="left:255.6px;top:323px">SEO: 6 Word Organic S…</div>
<div class="mv" style="left:255.29999999999998px;top:329px">3.90</div>
<div class="mt" style="left:337.1px;top:222px">Avg. Session Duration</div>
<div class="ms" style="left:337.1px;top:231px">SEO: 3 Word Organic S…</div>
<div class="mv" style="left:336.8px;top:238px">00:02:45</div>
<div class="ms" style="left:337.1px;top:262px">SEO: 4 Word Organic K…</div>
<div class="mv" style="left:336.8px;top:268px">00:02:30</div>
<div class="ms" style="left:337.1px;top:292px">SEO: 5 Word Organic S…</div>
<div class="mv" style="left:336.8px;top:299px">00:01:05</div>
<div class="ms" style="left:337.1px;top:323px">SEO: 6 Word Organic S…</div>
<div class="mv" style="left:336.8px;top:329px">00:01:33</div>
<div class="mt" style="left:10.0px;top:363px">Bounce Rate</div>
<div class="ms" style="left:10.0px;top:372px">SEO: 3 Word Organic S…</div>
<div class="mv" style="left:9.7px;top:379px">52.65%</div>
<div class="mt" style="left:91.89999999999999px;top:363px">% New Sessions</div>
<div class="ms" style="left:91.89999999999999px;top:372px">SEO: 3 Word Organic S…</div>
<div class="mv" style="left:91.6px;top:379px">55.56%</div>
<svg class="abs" style="left:0;top:0" width="720" height="402" viewBox="0 0 720 402">
<path d="M482.7,273.75 L482.7,234.65 A39.1,39.1 0 1 1 469.22,310.45 Z" fill="#058dc7" stroke="#fff" stroke-width="0.5"/><path d="M482.7,273.75 L469.22,310.45 A39.1,39.1 0 0 1 482.7,234.65 Z" fill="#50b432" stroke="#fff" stroke-width="0.5"/>
<path d="M570.8,273.75 L570.8,234.65 A39.1,39.1 0 1 1 537.92,294.91 Z" fill="#058dc7" stroke="#fff" stroke-width="0.5"/><path d="M570.8,273.75 L537.92,294.91 A39.1,39.1 0 0 1 570.8,234.65 Z" fill="#50b432" stroke="#fff" stroke-width="0.5"/>
<path d="M662.6,273.75 L662.6,234.65 A39.1,39.1 0 1 1 627.22,257.10 Z" fill="#058dc7" stroke="#fff" stroke-width="0.5"/><path d="M662.6,273.75 L627.22,257.10 A39.1,39.1 0 0 1 662.6,234.65 Z" fill="#50b432" stroke="#fff" stroke-width="0.5"/>
<path d="M573.5,366.75 L573.5,327.65 A39.1,39.1 0 1 1 535.82,356.31 Z" fill="#058dc7" stroke="#fff" stroke-width="0.5"/><path d="M573.5,366.75 L535.82,356.31 A39.1,39.1 0 0 1 573.5,327.65 Z" fill="#50b432" stroke="#fff" stroke-width="0.5"/>
<g font-family="Liberation Sans, sans-serif" font-size="3.8" fill="#fff">
<text x="506.5" y="280.0" text-anchor="middle">55.6%</text><text x="452.6" y="270.6" text-anchor="middle">44.4%</text>
<text x="590.6" y="288.0" text-anchor="middle">65.9%</text><text x="543.9" y="262.3" text-anchor="middle">34.1%</text>
<text x="676.0" y="300.6" text-anchor="middle">82%</text><text x="643.3" y="249.6" text-anchor="middle">18%</text>
<text x="587.8" y="390.8" text-anchor="middle">79.3%</text><text x="553.3" y="345.5" text-anchor="middle">20.7%</text>
</g>
<g font-family="Liberation Sans, sans-serif" font-size="5.8" fill="#333" text-anchor="middle">
<text x="480.6" y="229.75">SEO: 3 Word Organic Search</text>
<text x="569.0" y="229.75">SEO: 4 Word Organic Keywords</text>
<text x="660.0" y="229.75">SEO: 5 Word Organic Searches</text>
<text x="571.4" y="322.75">SEO: 6 Word Organic Searches</text>
</g>
<rect x="524.9" y="215.1" width="4.2" height="4.2" fill="#058dc7"/><rect x="566.8" y="215.1" width="4.2" height="4.2" fill="#50b432"/>
<g font-family="Liberation Sans, sans-serif" font-size="5.8" fill="#222"><text x="531" y="219.2">New Visitor</text><text x="572.9" y="219.2">Returning Visitor</text></g>
</svg>
<div class="sbt"></div><div class="sb"></div>
</div></div>
<div style="position:absolute;left:0;top:400px;width:720px;height:1px;background:rgba(0,0,0,.25)"></div>
<div style="position:absolute;left:718px;top:0;width:1px;height:402px;background:rgba(0,0,0,.3)"></div>
</body></html>
